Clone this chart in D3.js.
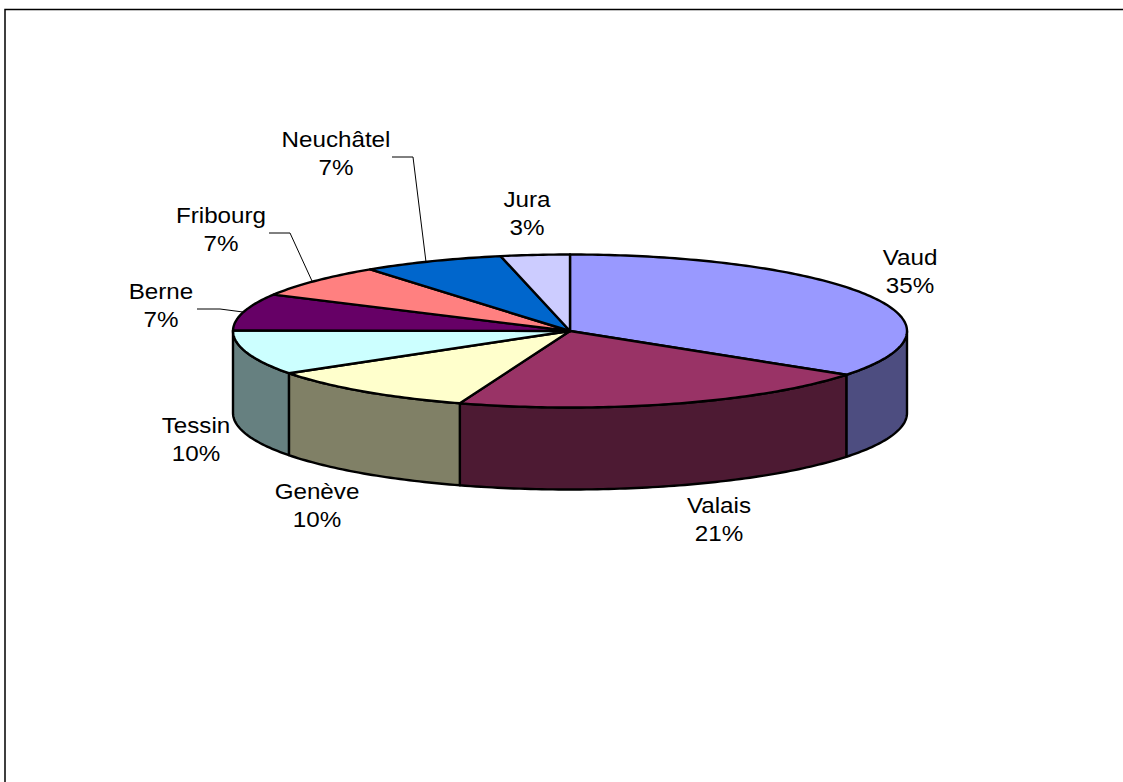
<!DOCTYPE html>
<html>
<head>
<meta charset="utf-8">
<script src="https://cdn.jsdelivr.net/npm/d3@7"></script>
<style>
  html, body { margin: 0; padding: 0; background: #fff; }
  svg { display: block; }
  text { font-family: "Liberation Sans", Arial, sans-serif; font-size: 22px; fill: #000; }
</style>
</head>
<body>
<div id="Area"></div>
<script>
var cantons = ["Vaud", "Valais", "Genève", "Tessin", "Berne", "Fribourg", "Neuchâtel", "Jura"];
// slice sizes, printed labels are the rounded ones of the original
var shares = [34.7, 20.6, 10.4, 9.4, 7.8, 7.0, 6.8, 3.3];
var shareLabels = ["35%", "21%", "10%", "10%", "7%", "7%", "7%", "3%"];
var topColors = ["#9999ff", "#993366", "#ffffcc", "#ccffff", "#660066", "#ff8080", "#0066cc", "#ccccff"];

// layout only: label centre x and first baseline
var labelX = [910, 719, 317, 196, 161, 221, 336, 527];
var labelY = [265, 513, 499, 433, 299, 223, 147, 207];
var leaders = [
    [[197, 309], [220, 309], [243, 312]],
    [[269, 233], [290, 233], [312, 281]],
    [[392, 157], [413, 157], [426, 262]]
];

var width = 1123, height = 782;
var depth = 82;

var svg = d3.select("#Area").append("svg")
    .attr("width", width)
    .attr("height", height);

// outer frame, only top and left are visible
svg.append("path")
    .attr("d", "M5,782V9.5H1123")
    .attr("fill", "none")
    .attr("stroke", "#000")
    .attr("stroke-width", 1.5);

// unit circle to pixels
var x = d3.scaleLinear().domain([-1, 1]).range([233, 907]);
var y = d3.scaleLinear().domain([-1, 1]).range([254.5, 407.5]);
var line = d3.line();

var pie = d3.pie().sort(null);
var slices = pie(shares);

function arcPoints(a0, a1, dy) {
    var n = Math.max(2, Math.ceil((a1 - a0) * 60));
    return d3.range(n + 1).map(function(i) {
        var a = a0 + (a1 - a0) * i / n;
        return [x(Math.sin(a)), y(-Math.cos(a)) + dy];
    });
}

// side walls, front half of the ellipse only
var walls = svg.append("g");
slices.forEach(function(d, i) {
    var a0 = Math.max(d.startAngle, Math.PI / 2);
    var a1 = Math.min(d.endAngle, Math.PI * 1.5);
    if (a1 <= a0) return;
    var pts = arcPoints(a0, a1, 0).concat(arcPoints(a0, a1, depth).reverse());
    walls.append("path")
        .attr("d", line(pts) + "Z")
        .attr("fill", d3.interpolateRgb(topColors[i], "#000")(0.5))
        .attr("stroke", "#000")
        .attr("stroke-width", 2.4)
        .attr("stroke-linejoin", "round");
});

// top faces
var tops = svg.append("g");
slices.forEach(function(d, i) {
    var pts = [[x(0), y(0)]].concat(arcPoints(d.startAngle, d.endAngle, 0));
    tops.append("path")
        .attr("d", line(pts) + "Z")
        .attr("fill", topColors[i])
        .attr("stroke", "#000")
        .attr("stroke-width", 2.4)
        .attr("stroke-linejoin", "round");
});

// leader lines
svg.append("g").selectAll("path")
    .data(leaders)
    .enter()
    .append("path")
    .attr("d", line)
    .attr("fill", "none")
    .attr("stroke", "#000")
    .attr("stroke-width", 1);

// labels, name on top of percentage
var labels = svg.append("g").selectAll("text")
    .data(cantons)
    .enter()
    .append("text")
    .attr("text-anchor", "middle")
    .attr("transform", function(d, i) {
        return "translate(" + labelX[i] + "," + labelY[i] + ") scale(1.1,1)";
    });
labels.append("tspan").attr("x", 0).attr("y", 0).text(function(d) { return d; });
labels.append("tspan").attr("x", 0).attr("y", 28).text(function(d, i) { return shareLabels[i]; });
</script>
</body>
</html>
